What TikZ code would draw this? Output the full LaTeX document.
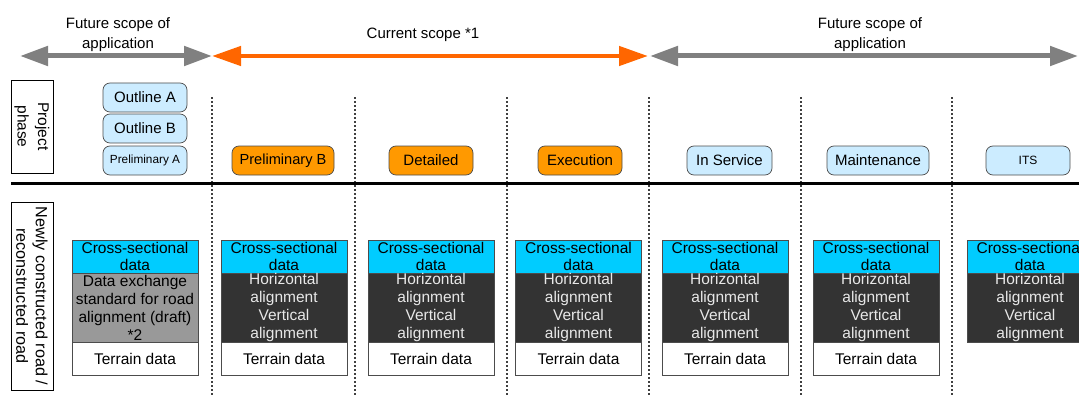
\documentclass[tikz,border=0pt]{standalone}
\usepackage{fontspec}
\setmainfont{Liberation Sans}
\usetikzlibrary{arrows.meta}
\definecolor{phaseblue}{HTML}{CCECFF}
\definecolor{phaseorange}{HTML}{FF9900}
\definecolor{cyanbox}{HTML}{00CCFF}
\definecolor{darkbox}{HTML}{333333}
\definecolor{draftgray}{HTML}{999999}
\definecolor{scopeorange}{HTML}{FF6600}
\definecolor{scopegray}{HTML}{808080}
\definecolor{lighttext}{HTML}{E8E8E8}
\begin{document}
\begin{tikzpicture}[x=1pt,y=-1pt,
  txt/.style={font=\fontsize{15}{20}\selectfont, align=center, inner sep=0},
  phasebox/.style={draw=black!70, line width=0.7, rounded corners=7, minimum height=29, inner sep=0, font=\fontsize{15}{17}\selectfont},
  phaseB/.style={phasebox, fill=phaseblue},
  phaseO/.style={phasebox, fill=phaseorange},
  sidebox/.style={draw=black, line width=0.8, rotate=-90, align=center, inner sep=0, minimum height=42},
  databox/.style={draw=black!70, line width=0.8, minimum width=126, inner sep=0, align=center, font=\fontsize{15.5}{17.3}\selectfont},
  csbox/.style={databox, fill=cyanbox, minimum height=33},
  midbox/.style={databox, fill=darkbox, text=lighttext, minimum height=69, font=\fontsize{15.5}{18}\selectfont},
  draftbox/.style={databox, fill=draftgray, text=black, minimum height=69, font=\fontsize{15.5}{18}\selectfont},
  terrbox/.style={databox, fill=white, minimum height=33},
  sep/.style={draw=black!75, line width=1.1, dash pattern=on 2pt off 2pt},
  garrow/.style={draw=scopegray, line width=5, {Triangle[length=28,width=19]}-{Triangle[length=28,width=19]}},
  oarrow/.style={draw=scopeorange, line width=4.5, {Triangle[length=29,width=19]}-{Triangle[length=29,width=19]}}
]
\useasboundingbox (0,0) rectangle (1079,396);
\clip (0,0) rectangle (1079,396);

% scope arrows
\coordinate (g1a) at (20,56);
\coordinate (g1b) at (212,56);
\coordinate (o1a) at (212,56);
\coordinate (o1b) at (648,56);
\coordinate (g2a) at (650,56);
\coordinate (g2b) at (1078,56);
\draw[garrow] (g1a) -- (g1b);
\draw[oarrow] (o1a) -- (o1b);
\draw[garrow] (g2a) -- (g2b);
\node[txt] (fut1) at (118,35) {Future scope of\\application};
\node[txt] (cur) at (423,35) {Current scope *1};
\node[txt] (fut2) at (870,35) {Future scope of\\application};

% separators
\foreach \n/\x in {1/212,2/355,3/507,4/649,5/801,6/952}{
  \coordinate (st\n) at (\x,97);
  \coordinate (sb\n) at (\x,396);
  \draw[sep] (st\n) -- (sb\n);
}
\coordinate (hl) at (11,183);
\coordinate (hr) at (1079,183);
\draw[line width=3] (hl) -- (hr);

% side labels
\node[sidebox, minimum width=93, font=\fontsize{15.5}{20.5}\selectfont] (pp) at (32,126.5) {Project\\phase};
\node[sidebox, minimum width=188, font=\fontsize{16.2}{19.5}\selectfont] (nr) at (32,296) {Newly constructed road /\\reconstructed road};

% phases
\node[phaseB, minimum width=84] (outA) at (145,97.5) {Outline A};
\node[phaseB, minimum width=84] (outB) at (145,128.5) {Outline B};
\node[phaseB, minimum width=84, font=\fontsize{11.8}{14}\selectfont] (preA) at (145,160.5) {Preliminary A};
\node[phaseO, minimum width=102, font=\fontsize{14.6}{17}\selectfont] (preB) at (283,160.5) {Preliminary B};
\node[phaseO, minimum width=84] (det) at (431,160.5) {Detailed};
\node[phaseO, minimum width=84] (exe) at (580,160.5) {Execution};
\node[phaseB, minimum width=85] (ins) at (729.5,160.5) {In Service};
\node[phaseB, minimum width=102] (mnt) at (878,160.5) {Maintenance};
\node[phaseB, minimum width=84, font=\fontsize{12}{14}\selectfont] (its) at (1028,160.5) {ITS};

% data column 1
\node[csbox] (cs1) at (135,256.5) {Cross-sectional\\data};
\node[draftbox] (mid1) at (135,307.5) {Data exchange\\standard for road\\alignment (draft)\\*2};
\node[terrbox] (ter1) at (135,358.5) {Terrain data};

% data columns 2-7
\foreach \n/\x in {2/284,3/431,4/578.5,5/725,6/876,7/1030}{
  \node[csbox] (cs\n) at (\x,256.5) {Cross-sectional\\data};
  \node[midbox] (mid\n) at (\x,307.5) {Horizontal\\alignment\\Vertical\\alignment};
}
\foreach \n/\x in {2/284,3/431,4/578.5,5/725,6/876}{
  \node[terrbox] (ter\n) at (\x,358.5) {Terrain data};
}
\end{tikzpicture}
\end{document}
